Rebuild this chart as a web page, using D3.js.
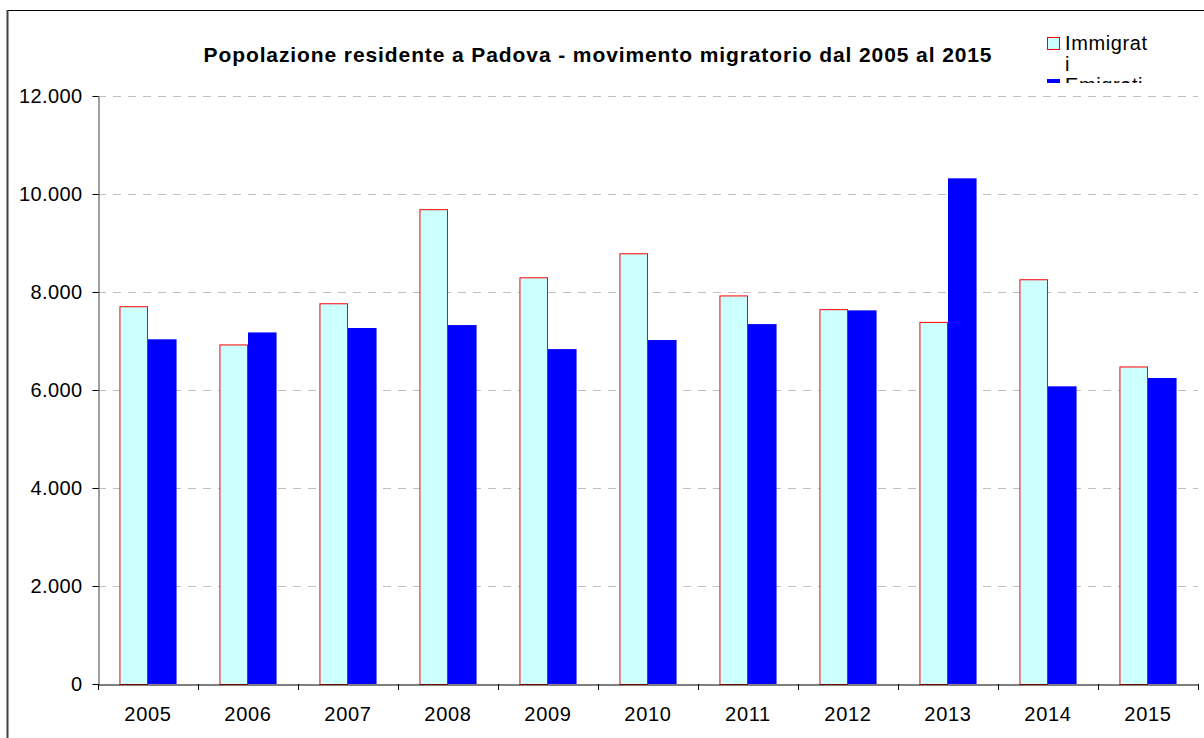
<!DOCTYPE html>
<html>
<head>
<meta charset="utf-8">
<script src="https://cdn.jsdelivr.net/npm/d3@7"></script>
<style>
  body { margin: 0; background: #fff; }
  svg { display: block; font-family: "Liberation Sans", Arial, sans-serif; }
</style>
</head>
<body>
<div id="chart"></div>
<script>
const years = ['2005', '2006', '2007', '2008', '2009', '2010', '2011', '2012', '2013', '2014', '2015'];
const immigrati = [7710, 6930, 7770, 9690, 8300, 8790, 7930, 7650, 7390, 8260, 6480];
const emigrati = [7035, 7175, 7265, 7325, 6835, 7020, 7345, 7625, 10320, 6075, 6245];
const seriesNames = ['Immigrati', 'Emigrati'];
const yTicks = [0, 2000, 4000, 6000, 8000, 10000, 12000];

const width = 1204;
const height = 738;
const margin = { top: 96, right: 6, bottom: 54, left: 98 };
const fontFamily = '"Liberation Sans", Arial, sans-serif';

const svg = d3.select('#chart')
  .append('svg')
  .attr('width', width)
  .attr('height', height);

// outer frame
svg.append('line')
  .attr('x1', 7).attr('x2', width).attr('y1', 10.5).attr('y2', 10.5)
  .attr('stroke', '#000').attr('stroke-width', 1);
svg.append('line')
  .attr('x1', 7.5).attr('x2', 7.5).attr('y1', 10).attr('y2', height)
  .attr('stroke', '#404040').attr('stroke-width', 2);

const x = d3.scaleBand()
  .domain(years)
  .range([margin.left, width - margin.right])
  .padding(0);

const xSub = d3.scaleBand()
  .domain(seriesNames)
  .range([0, x.bandwidth()])
  .paddingInner(0)
  .paddingOuter(0.75);

const y = d3.scaleLinear()
  .domain([0, 12000])
  .range([height - margin.bottom, margin.top]);

const locale = d3.formatLocale({ decimal: ',', thousands: '.', grouping: [3], currency: ['', '€'] });
const fmt = locale.format(',d');

// gridlines
svg.append('g')
  .selectAll('line')
  .data(yTicks.filter(d => d > 0))
  .join('line')
    .attr('x1', margin.left)
    .attr('x2', width - margin.right)
    .attr('y1', d => Math.round(y(d)) + 0.5)
    .attr('y2', d => Math.round(y(d)) + 0.5)
    .attr('stroke', '#c0c0c0')
    .attr('stroke-dasharray', '8,7');

const rows = years.map((yr, i) => ({ year: yr, Immigrati: immigrati[i], Emigrati: emigrati[i] }));
const colors = { Immigrati: '#ccffff', Emigrati: '#0000ff' };
const strokes = { Immigrati: '#ff0000', Emigrati: 'none' };

svg.append('g')
  .selectAll('g')
  .data(rows)
  .join('g')
    .attr('transform', d => `translate(${x(d.year)},0)`)
  .selectAll('rect')
  .data(d => seriesNames.map(k => ({ key: k, value: d[k] })))
  .join('rect')
    .attr('x', d => xSub(d.key) + (d.key === 'Immigrati' ? 0.5 : 0))
    .attr('y', d => y(d.value) + (d.key === 'Immigrati' ? 0.5 : 0))
    .attr('width', d => xSub.bandwidth() - (d.key === 'Immigrati' ? 1 : 0))
    .attr('height', d => y(0) - y(d.value))
    .attr('fill', d => colors[d.key])
    .attr('stroke', d => strokes[d.key])
    .attr('stroke-width', 1);

// y axis
const yAxis = svg.append('g')
  .attr('transform', `translate(${margin.left + 0.5},0)`)
  .call(d3.axisLeft(y).tickValues(yTicks).tickFormat(fmt).tickSize(6).tickSizeOuter(0).tickPadding(10));
yAxis.select('.domain').attr('stroke', '#404040');
yAxis.selectAll('text')
  .attr('font-size', 20).attr('letter-spacing', 0.4)
  .attr('fill', '#000').attr('font-family', fontFamily);

// x axis labels
const xAxis = svg.append('g')
  .attr('transform', `translate(0,${y(0) + 0.5})`)
  .call(d3.axisBottom(x).tickSize(0).tickPadding(22));
xAxis.select('.domain').attr('stroke', '#000');
xAxis.selectAll('text')
  .attr('font-size', 20).attr('letter-spacing', 0.7)
  .attr('fill', '#000').attr('font-family', fontFamily);

// x axis boundary ticks
svg.append('g')
  .selectAll('line')
  .data(years.map(yr => x(yr)).concat([x(years[years.length - 1]) + x.bandwidth()]))
  .join('line')
    .attr('x1', d => Math.round(d) + 0.5)
    .attr('x2', d => Math.round(d) + 0.5)
    .attr('y1', y(0))
    .attr('y2', y(0) + 6)
    .attr('stroke', '#000');

// title
svg.append('text')
  .attr('x', 598)
  .attr('y', 62)
  .attr('text-anchor', 'middle')
  .attr('font-size', 21)
  .attr('letter-spacing', 0.9)
  .attr('font-weight', 'bold')
  .text('Popolazione residente a Padova - movimento migratorio dal 2005 al 2015');

// legend (clipped like the original)
svg.append('clipPath')
  .attr('id', 'legclip')
  .append('rect')
  .attr('x', 1030).attr('y', 20).attr('width', 174).attr('height', 63);

const legend = svg.append('g').attr('clip-path', 'url(#legclip)');
legend.append('rect')
  .attr('x', 1047.5).attr('y', 37.5).attr('width', 12).attr('height', 12)
  .attr('fill', colors.Immigrati).attr('stroke', '#ff0000');
legend.append('text')
  .attr('x', 1065).attr('y', 50).attr('font-size', 20).attr('letter-spacing', 0.6)
  .text('Immigrat');
legend.append('text')
  .attr('x', 1065).attr('y', 71).attr('font-size', 20)
  .text('i');
legend.append('rect')
  .attr('x', 1047).attr('y', 79).attr('width', 13).attr('height', 13)
  .attr('fill', colors.Emigrati);
legend.append('text')
  .attr('x', 1065).attr('y', 92).attr('font-size', 20).attr('letter-spacing', 0.6)
  .text('Emigrati');
</script>
</body>
</html>
